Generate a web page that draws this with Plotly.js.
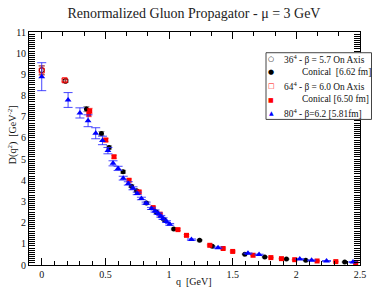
<!DOCTYPE html>
<html>
<head>
<meta charset="utf-8">
<script src="https://cdn.plot.ly/plotly-3.0.1.min.js"></script>
<style>html,body{margin:0;padding:0;background:#fff;}#chart{width:374px;height:288px;}</style>
</head>
<body>
<div id="chart"></div>
<script>
// 36^4, beta=5.7 on axis (open black circles)
const blackOpenQ = [0, 0.187];
const blackOpenD = [9.20, 8.69];
const blackOpenE = [0.20, 0.07];
// 36^4 conical (filled black circles)
const blackQ = [0.351, 0.469, 0.529, 0.639, 0.705, 0.745, 0.822, 0.90, 0.96, 1.037, 1.24, 1.34, 1.595, 1.752, 1.922, 2.074, 2.38];
const blackD = [7.36, 6.21, 5.55, 4.40, 3.72, 3.50, 2.93, 2.50, 2.15, 1.70, 1.17, 0.88, 0.51, 0.38, 0.28, 0.22, 0.14];
const blackE = [0.12, 0.09, 0.08, 0.07, 0.06, 0.05, 0.05, 0.04, 0.04, 0.04, 0.03, 0.03, 0.02, 0.02, 0.02, 0.02, 0.02];
// 64^4, beta=6.0 on axis (open red squares)
const redOpenQ = [0, 0.18];
const redOpenD = [9.18, 8.72];
const redOpenE = [0.22, 0.07];
// 64^4 conical (filled red squares)
const redQ = [0.370, 0.377, 0.503, 0.568, 0.686, 0.765, 0.875, 0.93, 1.07, 1.137, 1.32, 1.425, 1.50, 1.66, 1.80, 1.883, 1.987, 2.163, 2.31, 2.466];
const redD = [7.12, 7.28, 5.90, 5.11, 4.00, 3.45, 2.71, 2.40, 1.67, 1.40, 0.93, 0.78, 0.64, 0.46, 0.35, 0.30, 0.25, 0.19, 0.16, 0.11];
const redE = [0.12, 0.12, 0.08, 0.07, 0.06, 0.05, 0.05, 0.04, 0.04, 0.04, 0.03, 0.03, 0.03, 0.02, 0.02, 0.02, 0.02, 0.02, 0.02, 0.02];
// 80^4, beta=6.2 (blue triangles)
const blueQ = [0, 0.207, 0.30, 0.364, 0.424, 0.477, 0.52, 0.56, 0.60, 0.64, 0.68, 0.717, 0.75, 0.783, 0.82, 0.862, 0.89, 0.914, 0.935, 0.953, 0.98, 1.005, 1.176, 1.385, 1.62, 1.707, 2.027, 2.12, 2.237, 2.445];
const blueD = [8.89, 7.79, 7.18, 6.81, 6.22, 5.88, 5.40, 4.80, 4.56, 4.10, 3.85, 3.62, 3.38, 3.14, 2.92, 2.67, 2.55, 2.43, 2.30, 2.19, 2.05, 1.92, 1.20, 0.82, 0.55, 0.49, 0.28, 0.22, 0.19, 0.14];
const blueE = [0.66, 0.35, 0.24, 0.28, 0.26, 0.20, 0.15, 0.12, 0.10, 0.09, 0.08, 0.07, 0.06, 0.06, 0.05, 0.05, 0.05, 0.04, 0.04, 0.04, 0.04, 0.04, 0.03, 0.03, 0.02, 0.02, 0.02, 0.02, 0.02, 0.02];

const legendLabels = [
  '36<sup>4</sup> - β = 5.7 On Axis',
  'Conical  [6.62 fm]',
  '64<sup>4</sup> - β = 6.0 On Axis',
  'Conical [6.50 fm]',
  '80<sup>4</sup> - β=6.2 [5.81fm]'
];

const serif = 'Liberation Serif, Times New Roman, serif';

function errs(arr, color, w) {
  return {type: 'data', array: arr, visible: true, color: color, thickness: 1, width: w};
}

const traces = [
  {x: blackOpenQ, y: blackOpenD, type: 'scatter', mode: 'markers',
   marker: {symbol: 'circle-open', size: 5, color: '#000', line: {width: 1, color: '#000'}},
   error_y: errs(blackOpenE, 'rgba(60,60,60,0.8)', 3)},
  {x: blackQ, y: blackD, type: 'scatter', mode: 'markers',
   marker: {symbol: 'circle', size: 5, color: '#000'},
   error_y: errs(blackE, 'rgba(0,0,0,0.45)', 3)},
  {x: redOpenQ, y: redOpenD, type: 'scatter', mode: 'markers',
   marker: {symbol: 'square-open', size: 5, color: '#ff0000', line: {width: 1, color: '#ff0000'}},
   error_y: errs(redOpenE, 'rgba(255,0,0,0.6)', 3)},
  {x: redQ, y: redD, type: 'scatter', mode: 'markers',
   marker: {symbol: 'square', size: 5, color: '#ff0000'},
   error_y: errs(redE, 'rgba(255,0,0,0.45)', 3)},
  {x: blueQ, y: blueD, type: 'scatter', mode: 'markers',
   marker: {symbol: 'triangle-up', size: 6, color: '#0000ff'},
   error_y: errs(blueE, 'rgba(40,40,255,0.85)', 4.5)},
  {x: [], y: [], xaxis: 'x2', type: 'scatter', mode: 'markers', showlegend: false}
];

// plot area in pixels: x 29..360, y 32..264.7
const L = 29, R = 360, T = 32, B = 264.7;
const px = v => (v - L) / (R - L);
const py = v => (B - v) / (B - T);

const glyphs = [
  {t: '○', c: '#000', s: 7},
  {t: '●', c: '#000', s: 7},
  {t: '□', c: '#ff0000', s: 7},
  {t: '■', c: '#ff0000', s: 6},
  {t: '▲', c: '#0000ff', s: 6}
];
const rowY = [59, 72.3, 86, 99.3, 112.7];
const labelX = [281.5, 300, 281.5, 300, 281.5];

const annotations = [];
glyphs.forEach((g, i) => {
  annotations.push({xref: 'paper', yref: 'paper', x: px(271), y: py(rowY[i]), xanchor: 'center', yanchor: 'middle',
    text: g.t, showarrow: false, font: {family: 'DejaVu Sans', size: g.s, color: g.c}});
  annotations.push({xref: 'paper', yref: 'paper', x: px(labelX[i]), y: py(rowY[i]), xanchor: 'left', yanchor: 'middle',
    text: legendLabels[i], showarrow: false, font: {family: serif, size: 9.4, color: '#111'}});
});
annotations.push({xref: 'paper', yref: 'paper', x: px(12), y: py(135), xanchor: 'center', yanchor: 'middle',
  text: 'D(q<sup>2</sup>)  [GeV<sup>-2</sup>]', textangle: -90, showarrow: false, font: {family: serif, size: 10, color: '#111'}});
annotations.push({xref: 'paper', yref: 'paper', x: px(194), y: py(281), xanchor: 'center', yanchor: 'middle',
  text: 'q  [GeV]', showarrow: false, font: {family: serif, size: 10, color: '#111'}});

const layout = {
  width: 374, height: 288,
  margin: {l: L, r: 374 - R, t: T, b: 288 - B, pad: 0},
  paper_bgcolor: '#fff', plot_bgcolor: '#fff',
  showlegend: false,
  title: {text: 'Renormalized Gluon Propagator - μ = 3 GeV', x: 194 / 374, xanchor: 'center', y: 1 - 13.5 / 288, yanchor: 'middle',
          font: {family: serif, size: 14, color: '#222'}},
  xaxis: {range: [-0.1, 2.5], tick0: 0, dtick: 0.5, ticks: 'inside', ticklen: 7, tickcolor: '#000', tickwidth: 1,
          minor: {dtick: 0.1, tick0: 0, ticks: 'inside', ticklen: 4, tickcolor: '#000', tickwidth: 1, showgrid: false},
          showline: true, linecolor: '#000', linewidth: 1, mirror: true, showgrid: false, zeroline: false,
          tickfont: {family: serif, size: 10, color: '#111'}, fixedrange: true},
  xaxis2: {overlaying: 'x', side: 'top', matches: 'x', range: [-0.1, 2.5], tick0: 0, dtick: 0.5, ticks: 'inside', ticklen: 7,
           tickcolor: '#000', showticklabels: false, showgrid: false, zeroline: false, showline: false,
           minor: {dtick: 0.5 / 3, tick0: 0, ticks: 'inside', ticklen: 4, tickcolor: '#000', showgrid: false}},
  yaxis: {range: [0, 11], tick0: 0, dtick: 1, ticks: 'inside', ticklen: 6, tickcolor: '#000', tickwidth: 1,
          minor: {dtick: 0.1, tick0: 0, ticks: 'inside', ticklen: 3, tickcolor: '#000', tickwidth: 1, showgrid: false},
          showline: true, linecolor: '#000', linewidth: 1, mirror: 'allticks', showgrid: false, zeroline: false,
          tickfont: {family: serif, size: 10, color: '#111'}, fixedrange: true},
  shapes: [
    {type: 'rect', xref: 'paper', yref: 'paper', x0: px(266), x1: px(371.5), y0: py(119.3), y1: py(52.7),
     fillcolor: '#fff', line: {color: '#444', width: 1}, layer: 'above'}
  ],
  annotations: annotations
};

Plotly.newPlot('chart', traces, layout, {displayModeBar: false, staticPlot: true});
</script>
</body>
</html>
